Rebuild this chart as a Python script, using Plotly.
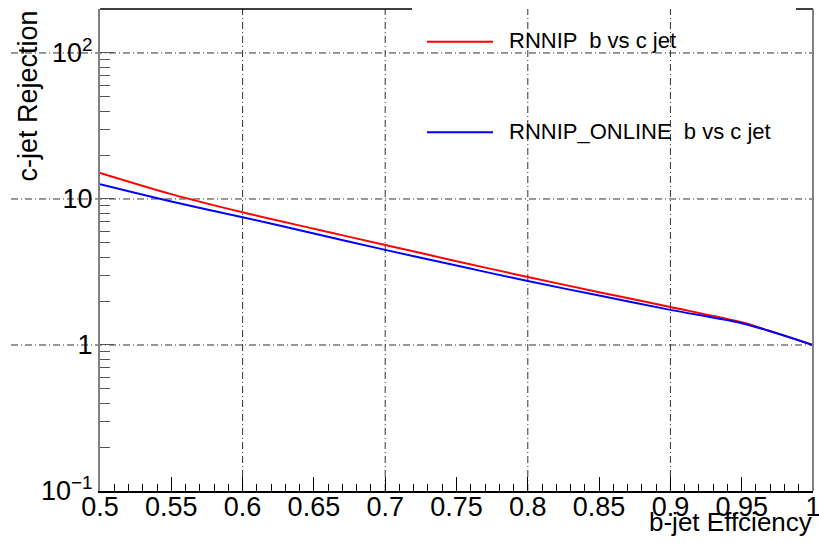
import math
import plotly.graph_objects as go

# ---- data ----
eff = [0.5, 0.55, 0.6, 0.65, 0.7, 0.75, 0.8, 0.85, 0.9, 0.95, 0.975, 1.0]
rnnip = [15.1, 10.8, 8.1, 6.25, 4.84, 3.75, 2.92, 2.3, 1.82, 1.43, 1.2, 1.0]
rnnip_online = [12.6, 9.6, 7.5, 5.8, 4.48, 3.5, 2.74, 2.18, 1.74, 1.41, 1.2, 1.0]

series_names = ["RNNIP  b vs c jet", "RNNIP_ONLINE  b vs c jet"]
series_colors = ["#ff0000", "#0000ff"]

x_tick_vals = [0.5, 0.55, 0.6, 0.65, 0.7, 0.75, 0.8, 0.85, 0.9, 0.95, 1.0]
x_tick_text = ["0.5", "0.55", "0.6", "0.65", "0.7", "0.75", "0.8", "0.85", "0.9", "0.95", "1"]
x_grid_vals = [0.6, 0.7, 0.8, 0.9]
y_tick_vals = [0.1, 1, 10, 100]
y_tick_text = ["10<sup>\u22121</sup>", "1", "10", "10<sup>2</sup>"]
y_minor_vals = [m * d for d in (0.1, 1, 10) for m in range(2, 10)]

x_title = "b-jet Effciency"
y_title = "c-jet Rejection"

# ---- layout geometry ----
W, H = 819, 544
L, R, T, B = 100, 6, 9, 53
pw, ph = W - L - R, H - T - B
ymin, ymax = -1.0, math.log10(200)

def px_x(px):
    return (px - L) / pw

def px_y(py):
    return (H - B - py) / ph

def yfrac(v):
    return (math.log10(v) - ymin) / (ymax - ymin)

FONT = "Liberation Sans, Arial, Helvetica, sans-serif"
DASH = "7px,3px,1px,3px"

fig = go.Figure()
fig.add_trace(go.Scatter(x=eff, y=rnnip, mode="lines", name=series_names[0],
                         line=dict(color=series_colors[0], width=2, shape="spline", smoothing=0.8),
                         showlegend=False))
fig.add_trace(go.Scatter(x=eff, y=rnnip_online, mode="lines", name=series_names[1],
                         line=dict(color=series_colors[1], width=2, shape="spline", smoothing=0.8),
                         showlegend=False))

shapes = []
# vertical grid lines
for gv in x_grid_vals:
    shapes.append(dict(type="line", xref="x", yref="paper", x0=gv, x1=gv, y0=0, y1=1,
                       line=dict(color="#333333", width=1, dash=DASH), layer="below"))
# horizontal grid lines (extend left beyond the frame as in the reference)
for gv in [1, 10, 100]:
    shapes.append(dict(type="line", xref="paper", yref="paper", x0=px_x(11), x1=1,
                       y0=yfrac(gv), y1=yfrac(gv),
                       line=dict(color="#333333", width=1, dash=DASH), layer="below"))
# frame: partial top border and right border
shapes.append(dict(type="line", xref="paper", yref="paper", x0=0, x1=px_x(412), y0=1, y1=1,
                   line=dict(color="#000000", width=1.5)))
shapes.append(dict(type="line", xref="paper", yref="paper", x0=px_x(796), x1=1, y0=1, y1=1,
                   line=dict(color="#000000", width=1.5)))
shapes.append(dict(type="line", xref="paper", yref="paper", x0=1, x1=1, y0=0, y1=1,
                   line=dict(color="#808080", width=2)))
# legend samples
leg_y = [41.7, 132.3]
for i in range(2):
    shapes.append(dict(type="line", xref="paper", yref="paper", x0=px_x(427), x1=px_x(493),
                       y0=px_y(leg_y[i]), y1=px_y(leg_y[i]),
                       line=dict(color=series_colors[i], width=2)))

annotations = []
for i in range(2):
    annotations.append(dict(text=series_names[i], xref="paper", yref="paper",
                            x=px_x(507), y=px_y(leg_y[i] - 1), xanchor="left", yanchor="middle",
                            showarrow=False, font=dict(family=FONT, size=22, color="black")))
annotations.append(dict(text=x_title, xref="paper", yref="paper", x=px_x(814), y=px_y(522),
                        xanchor="right", yanchor="middle", showarrow=False,
                        font=dict(family=FONT, size=26, color="black")))
annotations.append(dict(text=y_title, xref="paper", yref="paper", x=px_x(27), y=px_y(9),
                        xanchor="center", yanchor="top", textangle=-90, showarrow=False,
                        font=dict(family=FONT, size=27, color="black")))

fig.update_layout(
    width=W, height=H,
    margin=dict(l=L, r=R, t=T, b=B, pad=0, autoexpand=False),
    paper_bgcolor="white", plot_bgcolor="white",
    font=dict(family=FONT, size=27, color="black"),
    shapes=shapes, annotations=annotations,
    xaxis=dict(range=[0.5, 1.0], tickmode="array", tickvals=x_tick_vals, ticktext=x_tick_text,
               ticks="inside", ticklen=14, tickwidth=1, tickcolor="black",
               ticklabelstandoff=-9, ticklabeloverflow="allow", automargin=False,
               showgrid=False, zeroline=False, showline=True, linecolor="black", linewidth=1.5,
               tickfont=dict(family=FONT, size=27, color="black"),
               minor=dict(dtick=0.01, tick0=0.5, ticks="inside", ticklen=7, tickcolor="black",
                          showgrid=False)),
    yaxis=dict(type="log", range=[ymin, ymax], tickmode="array", tickvals=y_tick_vals,
               ticktext=y_tick_text, ticks="inside", ticklen=14, tickwidth=1, tickcolor="#555555",
               ticklabeloverflow="allow", automargin=False,
               showgrid=False, zeroline=False, showline=True, linecolor="#808080", linewidth=2,
               tickfont=dict(family=FONT, size=27, color="black"),
               minor=dict(tickmode="array", tickvals=y_minor_vals, ticks="inside", ticklen=10,
                          tickcolor="#555555", showgrid=False)),
)

fig.write_html("out.html", config={"displayModeBar": False},
               post_script="document.body.style.margin='0';document.body.style.padding='0';")
